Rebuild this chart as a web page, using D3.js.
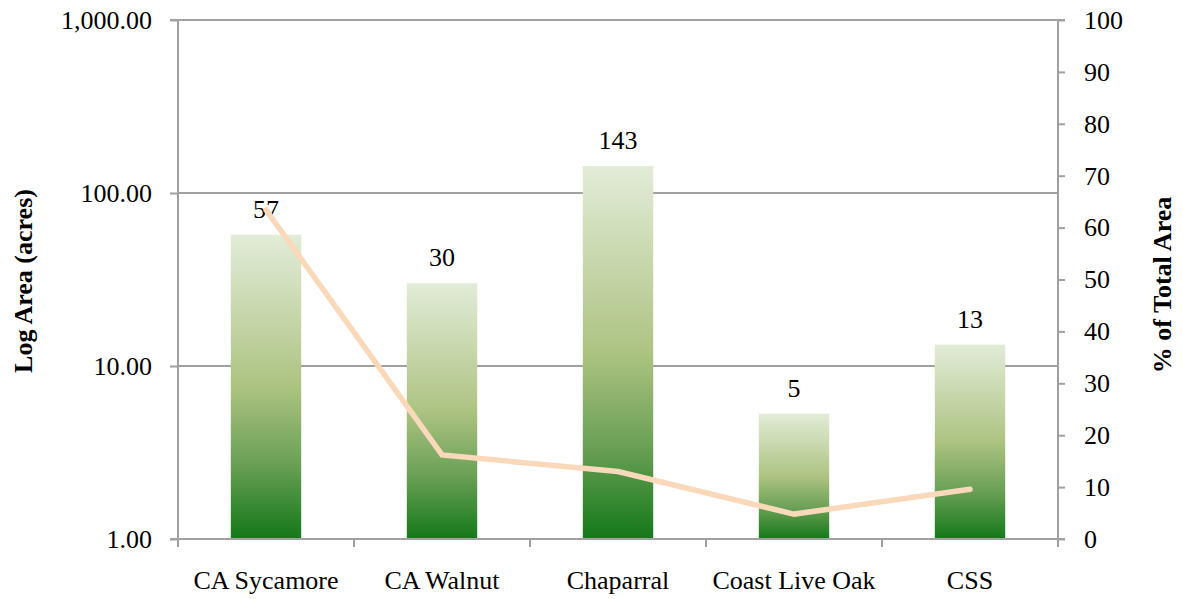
<!DOCTYPE html>
<html>
<head>
<meta charset="utf-8">
<script src="https://cdn.jsdelivr.net/npm/d3@7"></script>
<style>
  html, body { margin: 0; padding: 0; background: #fff; }
  svg { display: block; }
</style>
</head>
<body>
<svg id="chart" width="1183" height="599"></svg>
<script>
const categories = ["CA Sycamore", "CA Walnut", "Chaparral", "Coast Live Oak", "CSS"];
const areaAcres = [57.4, 30.1, 143.2, 5.3, 13.3];
const pctTotalArea = [63.4, 16.2, 13.0, 4.8, 9.6];
const leftTicks = [1, 10, 100, 1000];
const rightTicks = [0, 10, 20, 30, 40, 50, 60, 70, 80, 90, 100];

(function () {
const svg = d3.select("#chart");
const pL = 178, pR = 1058, pT = 20, pB = 539;
const axisColor = "#A0A0A0";
const font = "'Liberation Serif', 'Times New Roman', serif";
const fs = 26;

const x = d3.scaleBand().domain(categories).range([pL, pR]).padding(0);
const yL = d3.scaleLog().domain([1, 1000]).range([pB, pT]);
const yR = d3.scaleLinear().domain([0, 100]).range([pB, pT]);

// gradient
const defs = svg.append("defs");
const grad = defs.append("linearGradient").attr("id", "barGrad")
  .attr("x1", 0).attr("y1", 0).attr("x2", 0).attr("y2", 1);
grad.append("stop").attr("offset", "0%").attr("stop-color", "#E2ECD8");
grad.append("stop").attr("offset", "50%").attr("stop-color", "#ADC382");
grad.append("stop").attr("offset", "75%").attr("stop-color", "#6BA056");
grad.append("stop").attr("offset", "100%").attr("stop-color", "#147819");

// gridlines
svg.append("g").selectAll("line").data(leftTicks.slice(1)).join("line")
  .attr("x1", pL).attr("x2", pR)
  .attr("y1", d => yL(d)).attr("y2", d => yL(d))
  .attr("stroke", axisColor).attr("stroke-width", 2);

// bars
const bw = x.bandwidth() * 0.4;
svg.append("g").selectAll("rect").data(categories).join("rect")
  .attr("x", d => x(d) + (x.bandwidth() - bw) / 2)
  .attr("width", bw)
  .attr("y", (d, i) => yL(areaAcres[i]))
  .attr("height", (d, i) => yL(1) - yL(areaAcres[i]))
  .attr("fill", "url(#barGrad)");

// bar labels
svg.append("g").selectAll("text").data(categories).join("text")
  .attr("x", d => x(d) + x.bandwidth() / 2)
  .attr("y", (d, i) => yL(areaAcres[i]) - 17)
  .attr("text-anchor", "middle")
  .attr("font-family", font).attr("font-size", fs).attr("fill", "#000")
  .text((d, i) => d3.format(".0f")(areaAcres[i]));

// left axis
const gL = svg.append("g").attr("transform", `translate(${pL},0)`)
  .call(d3.axisLeft(yL).tickValues(leftTicks).tickSize(8).tickPadding(18)
    .tickFormat(d3.format(",.2f")));
gL.select(".domain").attr("stroke", axisColor).attr("stroke-width", 2).attr("d", `M-8,${pT}H0V${pB}H-8`);
gL.selectAll(".tick line").attr("stroke", axisColor).attr("stroke-width", 2);
gL.selectAll(".tick text").attr("font-family", font).attr("font-size", fs).attr("fill", "#000");

// right axis
const gR = svg.append("g").attr("transform", `translate(${pR},0)`)
  .call(d3.axisRight(yR).tickValues(rightTicks).tickSize(7).tickPadding(19));
gR.select(".domain").attr("stroke", axisColor).attr("stroke-width", 2).attr("d", `M7,${pT}H0V${pB}H7`);
gR.selectAll(".tick line").attr("stroke", axisColor).attr("stroke-width", 2);
gR.selectAll(".tick text").attr("font-family", font).attr("font-size", fs).attr("fill", "#000");

// bottom axis
const gB = svg.append("g").attr("transform", `translate(0,${pB})`)
  .call(d3.axisBottom(x).tickSize(0).tickPadding(0));
gB.select(".domain").attr("stroke", axisColor).attr("stroke-width", 2).attr("d", `M${pL},0H${pR}`);
gB.selectAll(".tick").remove();
const bounds = categories.map(d => x(d)).concat([pR]);
gB.append("g").selectAll("line").data(bounds).join("line")
  .attr("x1", d => d).attr("x2", d => d).attr("y1", 0).attr("y2", 8)
  .attr("stroke", axisColor).attr("stroke-width", 2);
gB.append("g").selectAll("text").data(categories).join("text")
  .attr("x", d => x(d) + x.bandwidth() / 2)
  .attr("y", 50)
  .attr("text-anchor", "middle")
  .attr("font-family", font).attr("font-size", fs).attr("fill", "#000")
  .text(d => d);

// line
const line = d3.line()
  .x((d, i) => x(categories[i]) + x.bandwidth() / 2)
  .y(d => yR(d));
svg.append("path").datum(pctTotalArea)
  .attr("d", line)
  .attr("fill", "none").attr("stroke", "#FAD8BA").attr("stroke-width", 5.5)
  .attr("stroke-linecap", "round").attr("stroke-linejoin", "miter");

// axis titles
svg.append("text")
  .attr("transform", `translate(32,281) rotate(-90)`)
  .attr("text-anchor", "middle")
  .attr("font-family", font).attr("font-weight", "bold").attr("font-size", fs)
  .text("Log Area (acres)");
svg.append("text")
  .attr("transform", `translate(1171,285) rotate(-90)`)
  .attr("text-anchor", "middle")
  .attr("font-family", font).attr("font-weight", "bold").attr("font-size", fs)
  .text("% of Total Area");
})();
</script>
</body>
</html>
